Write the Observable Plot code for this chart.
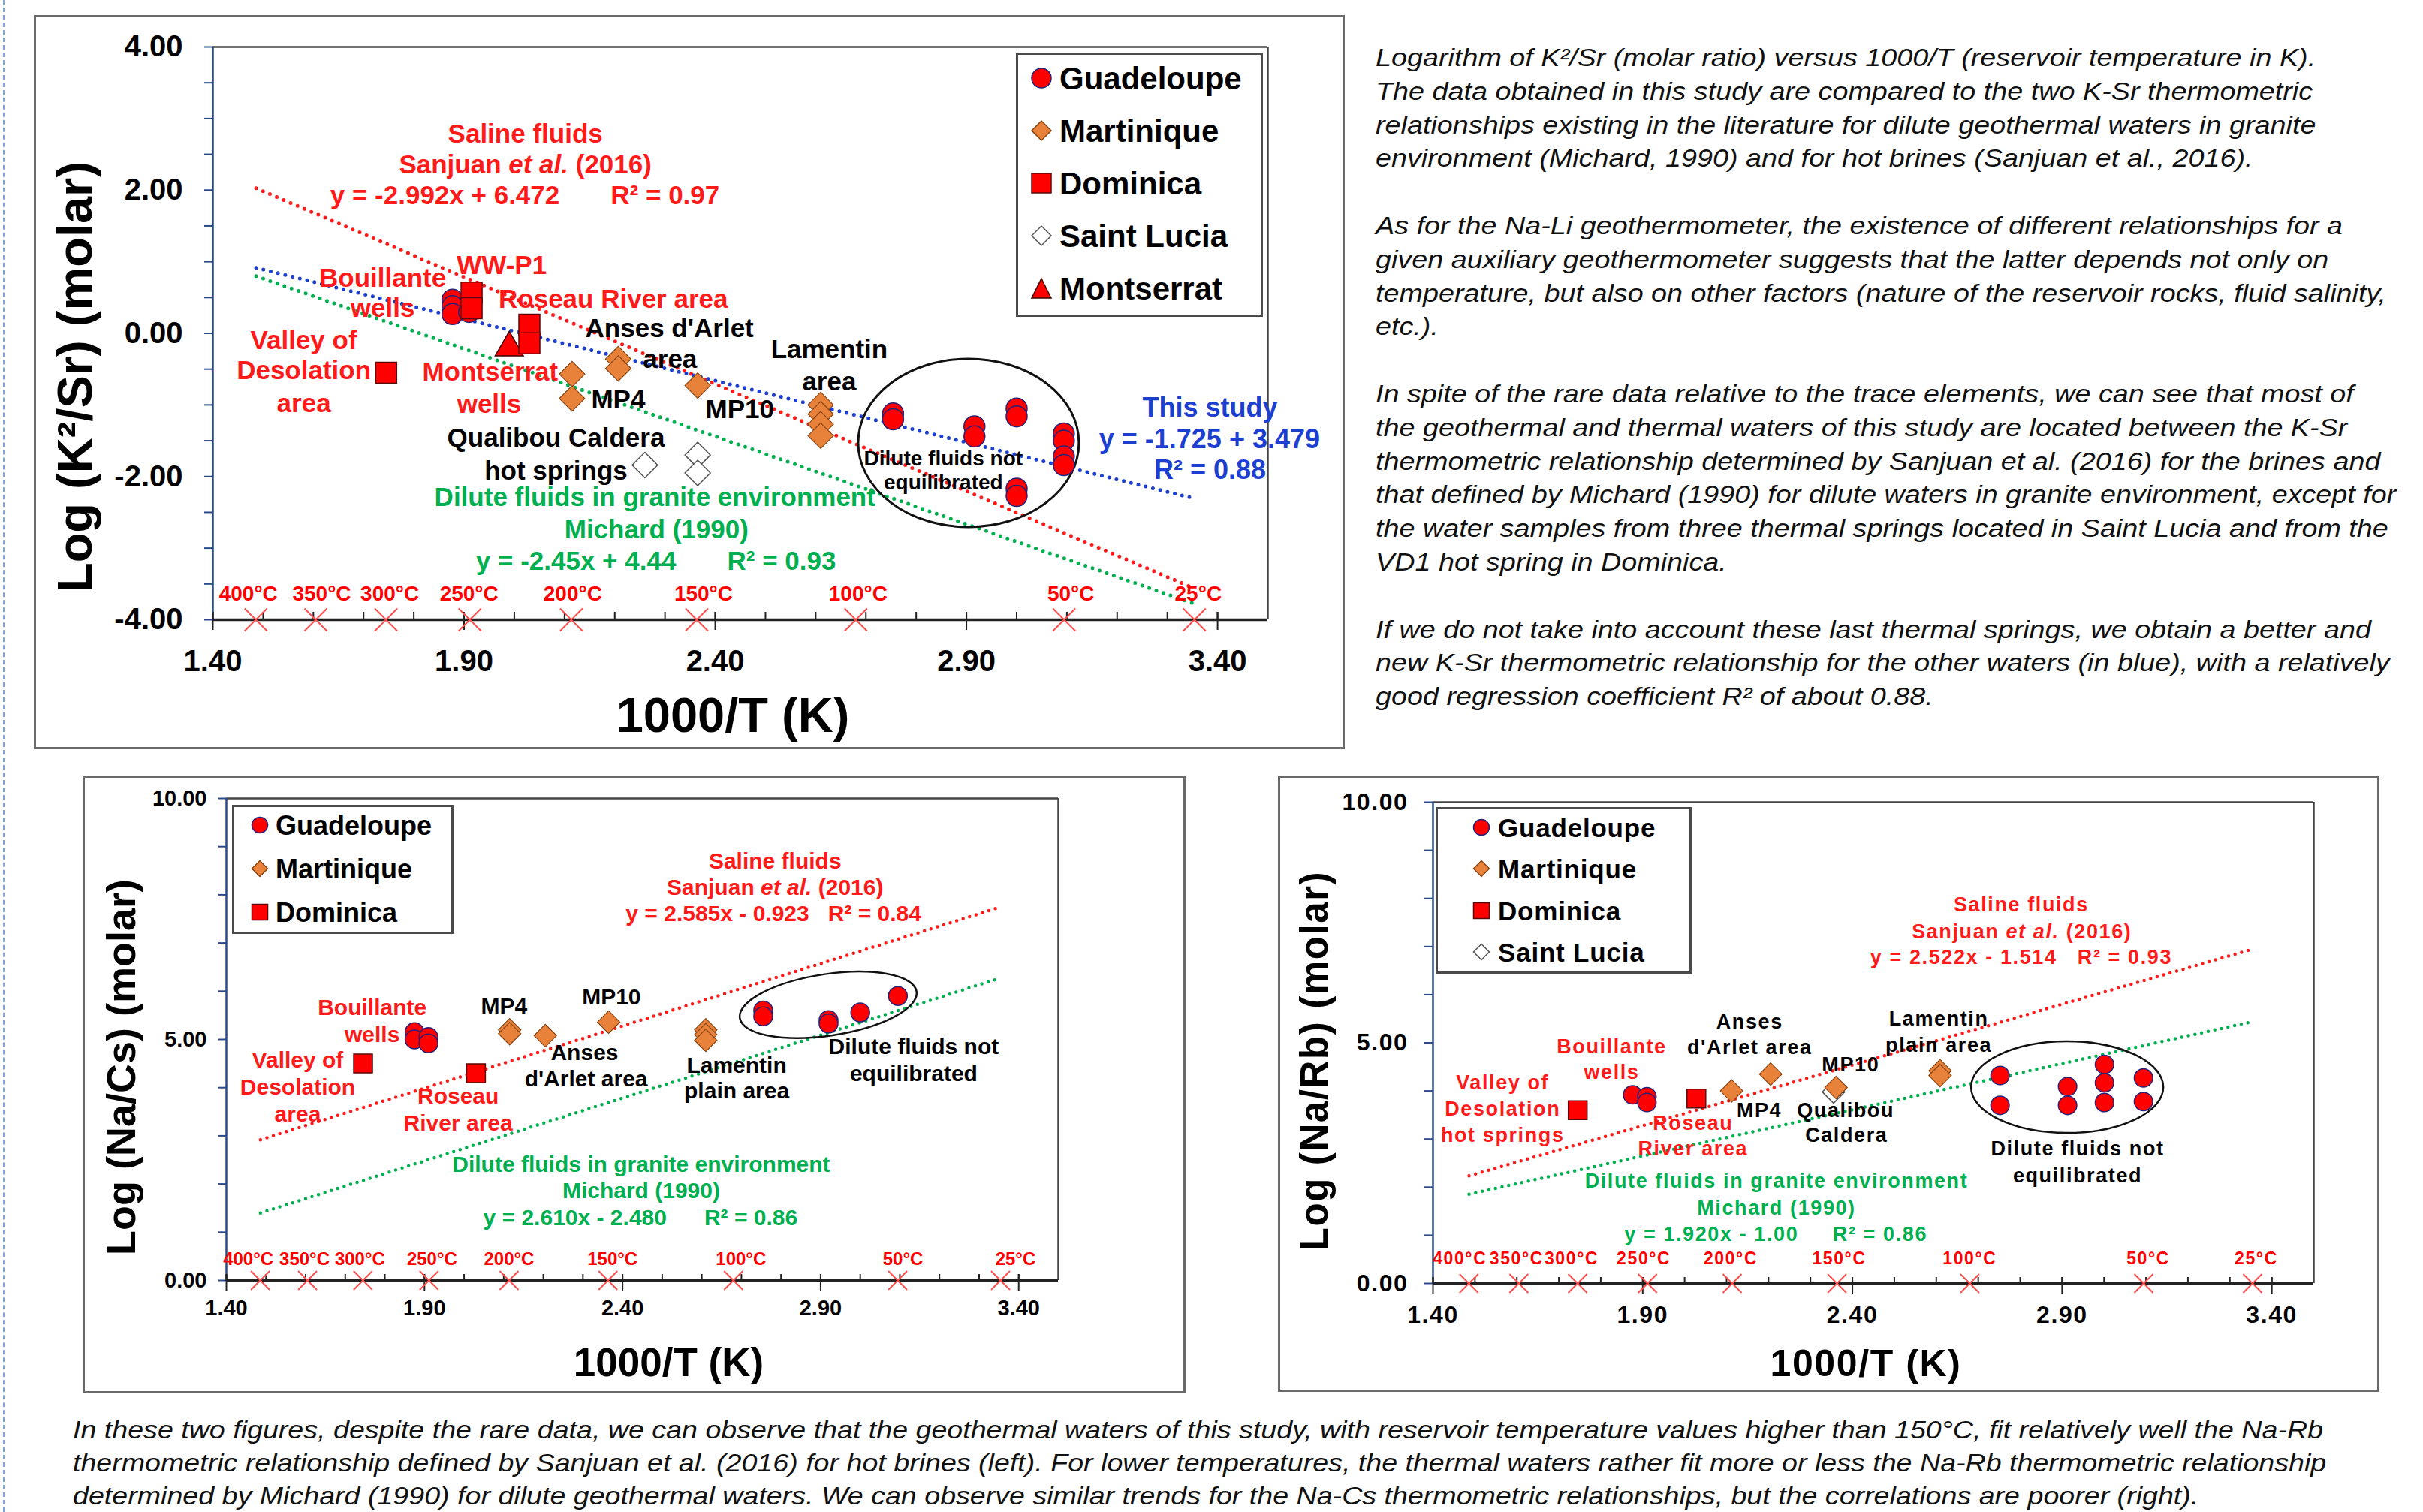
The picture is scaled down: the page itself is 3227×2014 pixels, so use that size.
<!DOCTYPE html>
<html><head><meta charset="utf-8">
<script src="https://cdn.jsdelivr.net/npm/d3@7"></script>
<script src="https://cdn.jsdelivr.net/npm/@observablehq/plot@0.6"></script>
<style>
html,body{margin:0;padding:0;background:#fff;}
body{width:3227px;height:2014px;position:relative;overflow:hidden;font-family:"Liberation Sans",Arial,sans-serif;}
.chart{position:absolute;}
.chart svg{max-width:none !important;display:block;}
.frame{position:absolute;box-sizing:border-box;border:3px solid #6a6a6a;pointer-events:none;}
.para{position:absolute;font-style:italic;font-size:34px;color:#111;white-space:pre;transform-origin:0 0;}
.legend{position:absolute;box-sizing:border-box;background:#fff;border:3px solid #4a4a4a;}
.legend .item{position:absolute;white-space:nowrap;font-weight:bold;color:#000;}
.legend svg{position:absolute;overflow:visible;}
.dash{position:absolute;left:4px;top:0;height:2014px;border-left:2px dashed #7fa3dc;}
</style></head><body>
<div class="dash"></div>
<script>
// ================= DATA =================
const tempsC = [400, 350, 300, 250, 200, 150, 100, 50, 25];
const xMajorTicks = [1.4, 1.9, 2.4, 2.9, 3.4];
const xMinorTicks = [1.4,1.5,1.6,1.7,1.8,1.9,2.0,2.1,2.2,2.3,2.4,2.5,2.6,2.7,2.8,2.9,3.0,3.1,3.2,3.3,3.4];
const kSrYMajor = [-4, -2, 0, 2, 4];
const kSrYMinor = [-4,-3.5,-3,-2.5,-2,-1.5,-1,-0.5,0,0.5,1,1.5,2,2.5,3,3.5,4];
const naYMajor = [0, 5, 10];
const naYMinor = [0,1,2,3,4,5,6,7,8,9,10];

// --- Log(K2/Sr) ---
const kSrGuadeloupe = [[1.877,0.47],[1.877,0.38],[1.877,0.27],[1.91,0.30],
  [2.754,-1.12],[2.754,-1.20],[2.916,-1.30],[2.916,-1.44],[3.0,-1.05],[3.0,-1.16],
  [3.0,-2.17],[3.0,-2.27],[3.094,-1.40],[3.094,-1.50],[3.094,-1.72],[3.094,-1.84]];
const kSrMartinique = [[2.115,-0.57],[2.115,-0.91],[2.207,-0.36],[2.207,-0.49],[2.365,-0.73],
  [2.61,-1.00],[2.61,-1.13],[2.61,-1.27],[2.61,-1.43]];
const kSrDominica = [[1.745,-0.55],[1.915,0.57],[1.915,0.35],[2.03,0.12],[2.03,-0.14]];
const kSrSaintLucia = [[2.26,-1.84],[2.365,-1.70],[2.365,-1.95]];
const kSrMontserrat = [[1.99,-0.20]];
const kSrSaline = [[1.486, 2.026],[3.354,-3.563]];
const kSrMichard = [[1.486, 0.799],[3.354,-3.777]];
const kSrThisStudy = [[1.486, 0.916],[3.354,-2.307]];

// --- Log(Na/Cs) ---
const naCsGuadeloupe = [[1.875,5.15],[1.875,5.0],[1.91,5.05],[1.91,4.92],
  [2.755,5.60],[2.755,5.48],[2.92,5.40],[2.92,5.33],[3.0,5.56],[3.095,5.90]];
const naCsMartinique = [[2.115,5.20],[2.115,5.12],[2.205,5.08],[2.365,5.36],[2.61,5.20],[2.61,5.10],[2.61,4.98]];
const naCsDominica = [[1.745,4.50],[2.03,4.30]];
const naCsSaline = [[1.486,2.918],[3.354,7.747]];
const naCsMichard = [[1.486,1.398],[3.354,6.274]];

// --- Log(Na/Rb) ---
const naRbGuadeloupe = [[1.876,3.92],[1.91,3.88],[1.91,3.76],[2.752,4.32],[2.752,3.70],[2.913,4.09],[2.913,3.70],
  [3.001,4.55],[3.001,4.17],[3.001,3.76],[3.094,4.27],[3.094,3.78]];
const naRbSaintLucia = [[2.355,3.98]];
const naRbMartinique = [[2.112,4.00],[2.205,4.35],[2.361,4.07],[2.609,4.42],[2.609,4.32]];
const naRbDominica = [[1.745,3.60],[2.028,3.84]];
const naRbSaline = [[1.486,2.234],[3.354,6.945]];
const naRbMichard = [[1.486,1.853],[3.354,5.440]];

// --- annotation labels [text, x, y] in data units ---
const kSrRedNotes = [["Saline fluids",2.022,2.78],["Sanjuan et al. (2016)",2.022,2.35],
  ["y = -2.992x + 6.472       R² = 0.97",2.021,1.92],["WW-P1",1.975,0.95],["Bouillante",1.738,0.765],
  ["wells",1.738,0.346],["Roseau River area",2.197,0.47],["Valley of",1.581,-0.105],["Desolation",1.581,-0.524],
  ["area",1.581,-0.985],["Montserrat",1.952,-0.545],["wells",1.95,-0.996]];
const kSrBlackNotes = [["Anses d'Arlet",2.309,0.063],["area",2.31,-0.367],["MP4",2.207,-0.933],["MP10",2.449,-1.07],
  ["Lamentin",2.627,-0.23],["area",2.627,-0.68],["Qualibou Caldera",2.083,-1.468],["hot springs",2.083,-1.929]];
const kSrSmallNotes = [["Dilute fluids not",2.854,-1.75],["equilibrated",2.854,-2.086]];
const kSrGreenNotes = [["Dilute fluids in granite environment",2.28,-2.296],["Michard (1990)",2.283,-2.746],
  ["y = -2.45x + 4.44       R² = 0.93",2.282,-3.187]];
const kSrBlueNotes = [["This study",3.385,-1.048],["y = -1.725 + 3.479",3.384,-1.488],["R² = 0.88",3.385,-1.918]];

const naCsRedNotes = [["Saline fluids",2.785,8.70],["Sanjuan et al. (2016)",2.785,8.15],["y = 2.585x - 0.923   R² = 0.84",2.781,7.60],
  ["Bouillante",1.768,5.65],["wells",1.768,5.09],["Valley of",1.58,4.56],["Desolation",1.58,4.0],["area",1.58,3.44],
  ["Roseau",1.985,3.82],["River area",1.985,3.26]];
const naCsBlackNotes = [["MP4",2.101,5.685],["MP10",2.372,5.87],["Anses",2.304,4.72],["d'Arlet area",2.308,4.17],
  ["Lamentin",2.688,4.455],["plain area",2.688,3.925],["Dilute fluids not",3.135,4.84],["equilibrated",3.135,4.28]];
const naCsGreenNotes = [["Dilute fluids in granite environment",2.447,2.40],["Michard (1990)",2.447,1.85],
  ["y = 2.610x - 2.480      R² = 0.86",2.445,1.29]];

const naRbRedNotes = [["Saline fluids",2.8025,7.86],["Sanjuan et al. (2016)",2.804,7.30],["y = 2.522x - 1.514   R² = 0.93",2.8025,6.77],
  ["Bouillante",1.826,4.91],["wells",1.826,4.38],["Valley of",1.566,4.165],["Desolation",1.566,3.62],["hot springs",1.566,3.07],
  ["Roseau",2.02,3.32],["River area",2.02,2.79]];
const naRbBlackNotes = [["Anses",2.155,5.43],["d'Arlet area",2.155,4.90],["MP4",2.178,3.59],["MP10",2.396,4.54],
  ["Qualibou",2.384,3.59],["Caldera",2.386,3.07],["Lamentin",2.606,5.49],["plain area",2.606,4.945],
  ["Dilute fluids not",2.937,2.79],["equilibrated",2.937,2.23]];
const naRbGreenNotes = [["Dilute fluids in granite environment",2.219,2.13],["Michard (1990)",2.219,1.56],
  ["y = 1.920x - 1.00     R² = 0.86",2.2175,1.01]];

const para1 = ["Logarithm of K²/Sr (molar ratio) versus 1000/T (reservoir temperature in K).",
 "The data obtained in this study are compared to the two K-Sr thermometric",
 "relationships existing in the literature for dilute geothermal waters in granite",
 "environment (Michard, 1990) and for hot brines (Sanjuan et al., 2016)."];
const para2 = ["As for the Na-Li geothermometer, the existence of different relationships for a",
 "given auxiliary geothermometer suggests that the latter depends not only on",
 "temperature, but also on other factors (nature of the reservoir rocks, fluid salinity,",
 "etc.)."];
const para3 = ["In spite of the rare data relative to the trace elements, we can see that most of",
 "the geothermal and thermal waters of this study are located between the K-Sr",
 "thermometric relationship determined by Sanjuan et al. (2016) for the brines and",
 "that defined by Michard (1990) for dilute waters in granite environment, except for",
 "the water samples from three thermal springs located in Saint Lucia and from the",
 "VD1 hot spring in Dominica."];
const para4 = ["If we do not take into account these last thermal springs, we obtain a better and",
 "new K-Sr thermometric relationship for the other waters (in blue), with a relatively",
 "good regression coefficient R² of about 0.88."];
const captionLines = ["In these two figures, despite the rare data, we can observe that the geothermal waters of this study, with reservoir temperature values higher than 150°C, fit relatively well the Na-Rb",
 "thermometric relationship defined by Sanjuan et al. (2016) for hot brines (left). For lower temperatures, the thermal waters rather fit more or less the Na-Rb thermometric relationship",
 "determined by Michard (1990) for dilute geothermal waters. We can observe similar trends for the Na-Cs thermometric relationships, but the correlations are poorer (right)."];

// ================= STYLE =================
const RED = "#ff1a1a", GREEN = "#00b050", BLUE = "#1c3fd1", NAVY = "#2b4a8b";
const SERIES = {
  Guadeloupe: {symbol: "circle", fill: "#ff0000", stroke: "#23237a", sw: 1.5},
  Martinique: {symbol: "diamond2", fill: "#e8823a", stroke: "#8a4412", sw: 1.2},
  Dominica: {symbol: "square", fill: "#ff0000", stroke: "#5a0a0a", sw: 1.5},
  "Saint Lucia": {symbol: "diamond2", fill: "#ffffff", stroke: "#555555", sw: 1.5},
  Montserrat: {symbol: "triangle", fill: "#ff0000", stroke: "#3a0000", sw: 1.5}
};
const xSymbol = {draw(ctx, size) { const r = Math.sqrt(size / Math.PI); ctx.moveTo(-r,-r); ctx.lineTo(r,r); ctx.moveTo(-r,r); ctx.lineTo(r,-r); }};
const toX = t => 1000 / (t + 273.15);
const SVGNS = "http://www.w3.org/2000/svg";

function ellipseMark(e) {
  return (index, scales) => {
    const el = document.createElementNS(SVGNS, "ellipse");
    const cx = scales.x(e.cx), cy = scales.y(e.cy);
    el.setAttribute("cx", cx); el.setAttribute("cy", cy);
    el.setAttribute("rx", e.rx); el.setAttribute("ry", e.ry);
    el.setAttribute("fill", "none"); el.setAttribute("stroke", "#111"); el.setAttribute("stroke-width", e.sw);
    if (e.rotate) el.setAttribute("transform", `rotate(${e.rotate} ${cx} ${cy})`);
    return el;
  };
}

function buildChart(c) {
  const marks = [];
  for (const L of c.lines) marks.push(Plot.line(L.pts, {x: d => d[0], y: d => d[1], stroke: L.color, strokeWidth: c.dotW, strokeDasharray: c.dash, strokeLinecap: "round"}));
  marks.push(Plot.ruleY([c.yDomain[1]], {stroke: "#444", strokeWidth: 2.5}));
  marks.push(Plot.ruleX([c.xDomain[1]], {stroke: "#444", strokeWidth: 2.5}));
  marks.push(Plot.ruleX([c.xDomain[0]], {stroke: NAVY, strokeWidth: 2.5}));
  marks.push(Plot.ruleY([c.yDomain[0]], {stroke: "#222", strokeWidth: c.xAxisW}));
  marks.push(Plot.axisY({ticks: c.yMinor, tickSize: c.yTickSize, tickFormat: () => "", color: NAVY, strokeWidth: 2}));
  marks.push(Plot.axisY({ticks: c.yMajor, tickSize: 0, tickPadding: c.yPad, tickFormat: d => d.toFixed(2), fontSize: c.tickFont, fontWeight: "bold", color: "#000"}));
  marks.push(Plot.axisX({ticks: xMinorTicks, tickSize: c.minorUp, dy: -c.minorUp, tickFormat: () => "", color: "#222", strokeWidth: 2}));
  marks.push(Plot.axisX({ticks: xMajorTicks, tickSize: c.minorUp + c.majorDown, dy: -c.minorUp, tickFormat: () => "", color: "#222", strokeWidth: 2}));
  marks.push(Plot.axisX({ticks: xMajorTicks, tickSize: 0, tickPadding: c.xPad, tickFormat: d => d.toFixed(2), fontSize: c.tickFont, fontWeight: "bold", color: "#000"}));
  marks.push(Plot.dot(tempsC, {x: toX, y: () => c.yDomain[0], symbol: xSymbol, r: c.xMarkR, fill: "none", stroke: "#ff4d4d", strokeWidth: 2}));
  tempsC.forEach((t, i) => {
    marks.push(Plot.text([t], {x: toX, y: () => c.tempY, text: d => `${d}°C`, dx: c.tempDx[i], fill: "#ff0000", fontSize: c.tempFont, fontWeight: "bold"}));
  });
  marks.push(ellipseMark(c.ellipse));
  for (const s of c.series) {
    const st = SERIES[s.name];
    marks.push(Plot.dot(s.data, {x: d => d[0], y: d => d[1], symbol: st.symbol, r: s.r, fill: st.fill, stroke: st.stroke, strokeWidth: st.sw}));
  }
  for (const g of c.notes) {
    marks.push(Plot.text(g.data, {x: d => d[1], y: d => d[2], text: d => d[0], fill: g.color, fontSize: g.size, fontWeight: "bold"}));
  }
  marks.push(Plot.text([c.yTitle], {frameAnchor: "left", textAnchor: "middle", lineAnchor: "middle", text: d => d, rotate: -90, dx: c.yTitleDx, dy: c.yTitleDy, fontSize: c.yTitleSize, fontWeight: "bold", fill: "#000"}));
  marks.push(Plot.text([c.xTitle], {frameAnchor: "bottom", textAnchor: "middle", lineAnchor: "middle", text: d => d, dx: c.xTitleDx, dy: c.xTitleDy, fontSize: c.xTitleSize, fontWeight: "bold", fill: "#000"}));

  const svg = Plot.plot({
    width: c.w, height: c.h,
    marginTop: c.m[0], marginRight: c.m[1], marginBottom: c.m[2], marginLeft: c.m[3],
    x: {domain: c.xDomain, label: null},
    y: {domain: c.yDomain, label: null},
    style: {fontFamily: "'Liberation Sans', Arial, sans-serif", background: "transparent", overflow: "visible", maxWidth: "none", letterSpacing: c.letterSpacing || "normal"},
    marks
  });
  // italic "et al."
  svg.querySelectorAll("text").forEach(t => {
    const s = t.textContent, i = s.indexOf("et al.");
    if (i >= 0 && t.childElementCount === 0) {
      t.textContent = "";
      t.append(s.slice(0, i));
      const ts = document.createElementNS(SVGNS, "tspan");
      ts.setAttribute("font-style", "italic"); ts.textContent = "et al.";
      t.append(ts);
      t.append(s.slice(i + 6));
    }
  });
  const div = document.createElement("div");
  div.className = "chart";
  Object.assign(div.style, {left: c.left + "px", top: c.top + "px", width: c.w + "px", height: c.h + "px"});
  div.appendChild(svg);
  document.body.appendChild(div);
  const fr = document.createElement("div");
  fr.className = "frame";
  Object.assign(fr.style, {left: c.left + "px", top: c.top + "px", width: c.w + "px", height: c.h + "px"});
  document.body.appendChild(fr);
}

function symbolSvg(name, size) {
  const st = SERIES[name];
  const s = document.createElementNS(SVGNS, "svg");
  s.setAttribute("width", 2); s.setAttribute("height", 2);
  let el;
  const h = size / 2;
  if (st.symbol === "circle") { el = document.createElementNS(SVGNS, "circle"); el.setAttribute("r", h); }
  else if (st.symbol === "square") { el = document.createElementNS(SVGNS, "rect"); el.setAttribute("x", -h); el.setAttribute("y", -h); el.setAttribute("width", size); el.setAttribute("height", size); }
  else if (st.symbol === "diamond2") { el = document.createElementNS(SVGNS, "polygon"); el.setAttribute("points", `0,${-h} ${h},0 0,${h} ${-h},0`); }
  else { el = document.createElementNS(SVGNS, "polygon"); el.setAttribute("points", `0,${-h} ${h},${h} ${-h},${h}`); }
  el.setAttribute("fill", st.fill); el.setAttribute("stroke", st.stroke); el.setAttribute("stroke-width", 1.5);
  s.appendChild(el);
  return s;
}

function buildLegend(L) {
  const box = document.createElement("div");
  box.className = "legend";
  Object.assign(box.style, {left: L.left + "px", top: L.top + "px", width: L.w + "px", height: L.h + "px"});
  L.items.forEach((name, i) => {
    const y = L.y0 + i * L.dy;
    const sv = symbolSvg(name, L.symSize);
    Object.assign(sv.style, {left: (L.sx - 1) + "px", top: (y - 1) + "px"});
    box.appendChild(sv);
    const t = document.createElement("div");
    t.className = "item"; t.textContent = name;
    Object.assign(t.style, {left: L.tx + "px", top: (y - L.font * 0.6) + "px", fontSize: L.font + "px", lineHeight: (L.font * 1.2) + "px", letterSpacing: L.ls || "normal"});
    box.appendChild(t);
  });
  document.body.appendChild(box);
}

// ================= CHARTS =================
buildChart({
  left: 45, top: 20, w: 1746, h: 978, m: [42, 103, 173, 238],
  xDomain: [1.4, 3.5], yDomain: [-4, 4], yMajor: kSrYMajor, yMinor: kSrYMinor,
  dotW: 5, dash: "0 10", xAxisW: 3.5, yTickSize: 11, yPad: 40, xPad: 40, tickFont: 40,
  minorUp: 10, majorDown: 14, xMarkR: 15, tempY: -3.64, tempFont: 28,
  tempDx: [-10, 8, 5, -1, 2, 9, 3, 9, 5],
  lines: [{pts: kSrSaline, color: RED}, {pts: kSrMichard, color: GREEN}, {pts: kSrThisStudy, color: BLUE}],
  ellipse: {cx: 2.905, cy: -1.535, rx: 147, ry: 112, sw: 3},
  series: [{name: "Saint Lucia", data: kSrSaintLucia, r: 15.3}, {name: "Martinique", data: kSrMartinique, r: 15.3},
           {name: "Montserrat", data: kSrMontserrat, r: 14}, {name: "Guadeloupe", data: kSrGuadeloupe, r: 14},
           {name: "Dominica", data: kSrDominica, r: 15.8}],
  notes: [{data: kSrRedNotes, color: RED, size: 35}, {data: kSrBlackNotes, color: "#000", size: 35},
          {data: kSrSmallNotes, color: "#000", size: 28}, {data: kSrGreenNotes, color: GREEN, size: 35},
          {data: kSrBlueNotes, color: BLUE, size: 36}],
  yTitle: "Log (K²/Sr) (molar)", yTitleDx: -182, yTitleDy: 58, yTitleSize: 65,
  xTitle: "1000/T (K)", xTitleDx: -10, xTitleDy: 129, xTitleSize: 65
});
buildLegend({left: 1353, top: 70, w: 329, h: 352, items: ["Guadeloupe","Martinique","Dominica","Saint Lucia","Montserrat"],
  y0: 32, dy: 70, sx: 32, tx: 55, font: 42, symSize: 26});

buildChart({
  left: 110, top: 1033, w: 1469, h: 823, m: [30, 170, 151, 191],
  xDomain: [1.4, 3.5], yDomain: [0, 10], yMajor: naYMajor, yMinor: naYMinor,
  dotW: 4.5, dash: "0 9", xAxisW: 3, yTickSize: 10, yPad: 26, xPad: 26, tickFont: 29,
  minorUp: 8, majorDown: 14, xMarkR: 12.5, tempY: 0.436, tempFont: 24,
  tempDx: [-16, -4, -4, 4, 0, 6, 10, 7, 20],
  lines: [{pts: naCsSaline, color: RED}, {pts: naCsMichard, color: GREEN}],
  ellipse: {cx: 2.92, cy: 5.71, rx: 119, ry: 41, rotate: -8.5, sw: 2.5},
  series: [{name: "Martinique", data: naCsMartinique, r: 13.5}, {name: "Guadeloupe", data: naCsGuadeloupe, r: 12.5},
           {name: "Dominica", data: naCsDominica, r: 14.1}],
  notes: [{data: naCsRedNotes, color: RED, size: 30}, {data: naCsBlackNotes, color: "#000", size: 30},
          {data: naCsGreenNotes, color: GREEN, size: 30}],
  yTitle: "Log (Na/Cs) (molar)", yTitleDx: -139, yTitleDy: 37, yTitleSize: 54,
  xTitle: "1000/T (K)", xTitleDx: 35, xTitleDy: 111, xTitleSize: 53
});
buildLegend({left: 309, top: 1072, w: 295, h: 172, items: ["Guadeloupe","Martinique","Dominica"],
  y0: 25, dy: 58, sx: 35, tx: 55, font: 36, symSize: 21});

buildChart({
  left: 1702, top: 1033, w: 1467, h: 821, m: [35, 88, 145, 206],
  xDomain: [1.4, 3.5], yDomain: [0, 10], yMajor: naYMajor, yMinor: naYMinor,
  dotW: 4.5, dash: "0 9", xAxisW: 3, yTickSize: 12, yPad: 33, xPad: 30, tickFont: 32,
  minorUp: 8, majorDown: 14, xMarkR: 12.5, tempY: 0.515, tempFont: 23, letterSpacing: "1.6px",
  tempDx: [-12, -3, -8, -5, -2, 3, 0, 6, 5],
  lines: [{pts: naRbSaline, color: RED}, {pts: naRbMichard, color: GREEN}],
  ellipse: {cx: 2.913, cy: 4.07, rx: 128, ry: 61, sw: 2.5},
  series: [{name: "Saint Lucia", data: naRbSaintLucia, r: 13.5}, {name: "Martinique", data: naRbMartinique, r: 13.5},
           {name: "Guadeloupe", data: naRbGuadeloupe, r: 12.3}, {name: "Dominica", data: naRbDominica, r: 14.1}],
  notes: [{data: naRbRedNotes, color: RED, size: 27}, {data: naRbBlackNotes, color: "#000", size: 27},
          {data: naRbGreenNotes, color: GREEN, size: 27}],
  yTitle: "Log (Na/Rb) (molar)", yTitleDx: -157, yTitleDy: 24, yTitleSize: 51,
  xTitle: "1000/T (K)", xTitleDx: -10, xTitleDy: 107, xTitleSize: 50
});
buildLegend({left: 1912, top: 1075, w: 341, h: 222, items: ["Guadeloupe","Martinique","Dominica","Saint Lucia"],
  y0: 24.5, dy: 55.5, sx: 59, tx: 80, font: 35, symSize: 21, ls: "0.8px"});

// ================= TEXT =================
function addPara(lines, left, top, lh, sx) {
  const d = document.createElement("div");
  d.className = "para";
  Object.assign(d.style, {left: left + "px", top: top + "px", lineHeight: lh + "px", transform: `scaleX(${sx})`});
  d.textContent = lines.join("\n");
  document.body.appendChild(d);
}
const sideLines = [...para1, "", ...para2, "", ...para3, "", ...para4];
addPara(sideLines, 1832, 54, 44.8, 1.11);
addPara(captionLines, 97, 1882, 44, 1.106);
</script>
</body></html>
